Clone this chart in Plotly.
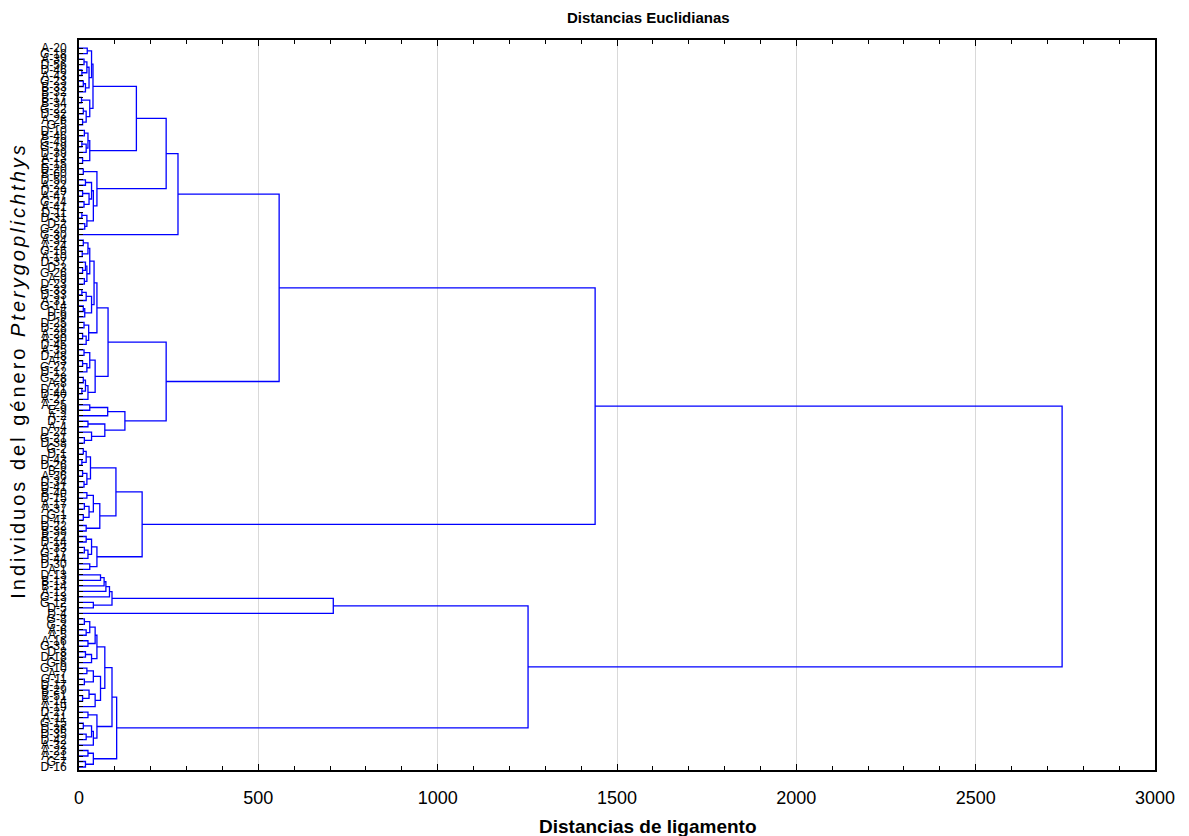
import plotly.graph_objects as go

# Leaf labels in dendrogram order (top to bottom)
leaf_labels = [
    # upper cluster
    "A-20", "G-18", "A-39", "D-56", "D-46", "A-43", "G-23", "B-33", "B-32", "B-17", "B-34", "G-22", "D-32",
    "A-26", "G-5", "D-10", "B-46", "G-49", "G-19", "D-39",
    "A-13", "E-15", "D-20", "B-60", "D-50", "A-22", "D-29", "A-47", "G-24", "A-41", "D-11", "D-31", "D-2", "G-20",
    "G-30",
    "A-34", "A-24", "G-16", "A-10", "D-37", "D-3", "G-26", "A-9", "D-23", "G-33", "D-33", "A-31", "G-14", "D-6",
    "D-9", "D-25", "D-28", "A-28", "A-30", "D-45", "A-35", "D-48", "A-3", "G-27", "D-12", "G-28", "A-8", "D-21",
    "D-40", "A-27", "A-25", "E-9", "A-2", "D-7", "A-4", "D-24", "G-21",
    "D-38", "G-2", "D-1", "D-43", "D-26", "B-8", "A-36", "D-34", "D-41", "B-40", "D-15", "A-17", "A-37", "G-1",
    "D-47", "D-22", "B-38", "B-22", "D-14", "A-33", "G-17", "D-44", "D-30",
    # lower cluster
    "A-1", "D-13", "B-13", "B-14", "A-12", "G-13", "G-12", "D-5",
    "D-4", "G-8", "G-3", "A-6", "A-5", "A-16", "G-31", "D-8", "D-18", "G-6", "G-10", "A-7", "G-11", "D-17",
    "B-29", "B-51", "A-14", "A-19", "D-27", "A-11", "G-15", "D-36", "D-35", "D-42", "A-32", "A-23", "A-21",
    "G-7", "D-16",
]

# Linkage distance at which each leaf joins the next one (neighbour join heights)
join_heights = [
    23, 35, 14, 22, 8, 28, 12, 18, 39, 7, 30, 12, 20, 10,
    160,
    15, 25, 8, 20, 30, 10,
    243,
    12, 50, 18, 35, 10, 28, 14, 40, 8, 22, 16,
    276,
    558,
    12, 25, 9, 30, 18, 10, 22, 15, 42, 8, 20, 35, 12, 16, 50, 14, 27, 10, 20,
    81,
    14, 30, 10, 22, 45, 12, 18, 8, 25,
    243,
    30, 80, 128, 25, 72, 35, 15,
    1439,
    12, 20, 8, 32, 10, 22, 14,
    103,
    22, 40, 15, 28, 12, 58, 20,
    176,
    20, 35, 15, 25, 50, 30,
    2741,
    60, 70, 75, 85, 92, 40,
    709,
    1252,
    15, 30, 20, 45, 25, 50, 18, 35, 72, 22, 40, 15, 60, 28, 10, 45,
    92,
    25, 50, 12, 35, 20, 40,
    105,
    25, 40, 18, 30,
]

x_ticks = [0, 500, 1000, 1500, 2000, 2500, 3000]

N = len(leaf_labels)

xs, ys = [], []


def build(lo, hi):
    if lo == hi:
        return 0.0, float(lo)
    seg = join_heights[lo:hi]
    k = lo + max(range(len(seg)), key=lambda j: seg[j])
    h = join_heights[k]
    lx, ly = build(lo, k)
    rx, ry = build(k + 1, hi)
    xs.extend([lx, h, h, rx, None])
    ys.extend([ly, ly, ry, ry, None])
    return h, (ly + ry) / 2.0


build(0, N - 1)

fig = go.Figure()
fig.add_trace(go.Scatter(x=xs, y=ys, mode="lines", line=dict(color="#0000ff", width=1.3),
                         hoverinfo="skip", showlegend=False))

fig.update_layout(
    width=1189, height=836,
    margin=dict(l=79, r=34, t=40, b=66),
    paper_bgcolor="white", plot_bgcolor="white",
    font=dict(family="Liberation Sans, Arial, sans-serif", color="black"),
    xaxis=dict(
        range=[0, 3000], tickmode="array", tickvals=x_ticks,
        showgrid=True, gridcolor="#d9d9d9", gridwidth=1, zeroline=False,
        showline=True, linecolor="black", linewidth=2, mirror="ticks",
        ticks="inside", ticklen=6, tickcolor="black", ticklabelstandoff=10,
        minor=dict(dtick=100, ticks="inside", ticklen=4, tickcolor="black", showgrid=False),
        tickfont=dict(size=18),
    ),
    yaxis=dict(
        range=[N - 1 + 0.55, -1.47], tickmode="array", tickvals=list(range(N)), ticktext=leaf_labels,
        showgrid=False, zeroline=False, showline=True, linecolor="black", linewidth=2, mirror=True,
        ticks="inside", ticklen=4, tickcolor="black", tickfont=dict(size=12), ticklabelstandoff=8,
    ),
    annotations=[
        dict(text="<b>Distancias Euclidianas</b>", xref="paper", yref="paper", x=0.529, y=1,
             yshift=23, showarrow=False, font=dict(size=15), xanchor="center", yanchor="middle"),
        dict(text="<b>Distancias de ligamento</b>", xref="paper", yref="paper", x=0.529, y=0,
             yshift=-56, showarrow=False, font=dict(size=19), xanchor="center", yanchor="middle"),
        dict(text='<span style="letter-spacing:3px">Individuos del género <i>Pterygoplichthys</i></span>',
             xref="paper", yref="paper",
             x=0, xshift=-61, y=0.547, textangle=-90, showarrow=False, font=dict(size=20),
             xanchor="center", yanchor="middle"),
    ],
)

fig.write_html("out.html")
